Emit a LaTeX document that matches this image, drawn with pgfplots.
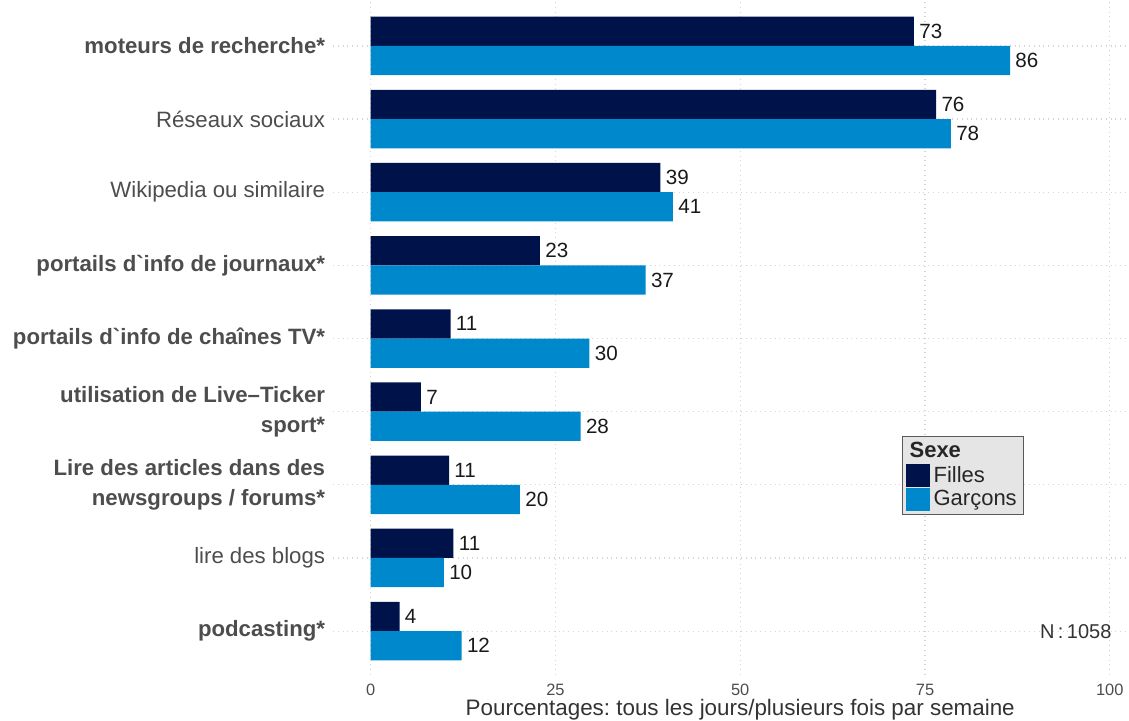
\documentclass[border=0pt]{standalone}
\usepackage{fontspec}
\setmainfont{Liberation Sans}
\setsansfont{Liberation Sans}
\usepackage{pgfplots}
\pgfplotsset{compat=1.18}
\definecolor{filles}{HTML}{00124A}
\definecolor{garcons}{HTML}{0088CC}
\definecolor{txtgray}{HTML}{4D4D4D}
\definecolor{gridgray}{HTML}{D4D4D4}
\definecolor{legfill}{HTML}{E5E5E5}

% value, position, label
\pgfplotstableread{
x y lab
73.5 -0.2 73
76.5 0.8 76
39.2 1.8 39
22.9 2.8 23
10.8 3.8 11
6.8 4.8 7
10.6 5.8 11
11.2 6.8 11
3.9 7.8 4
}\filles

\pgfplotstableread{
x y lab
86.5 0.2 86
78.5 1.2 78
40.9 2.2 41
37.2 3.2 37
29.6 4.2 30
28.4 5.2 28
20.2 6.2 20
9.9 7.2 10
12.3 8.2 12
}\garcons

\begin{document}
\frenchspacing
\begin{tikzpicture}
\path[use as bounding box] (0,0) rectangle (564.5pt,-360pt);
\begin{axis}[
  at={(166.5pt,-1pt)}, anchor=north west,
  scale only axis, width=398pt, height=336.5pt,
  xmin=-5.1, xmax=102.6, ymin=-0.6, ymax=8.6, y dir=reverse,
  clip=false,
  xbar, bar width=0.4,
  xtick={0,25,50,75,100}, ytick={0,...,8},
  yticklabels={
    {\textbf{moteurs de recherche*}},
    {Réseaux sociaux},
    {Wikipedia ou similaire},
    {\textbf{portails d\textasciigrave info de journaux*}},
    {\textbf{portails d\textasciigrave info de chaînes TV*}},
    {\textbf{utilisation de Live–Ticker}\\[1pt]\textbf{sport*}},
    {\textbf{Lire des articles dans des}\\[1pt]\textbf{newsgroups / forums*}},
    {lire des blogs},
    {\textbf{podcasting*}}},
  yticklabel style={align=right, font=\fontsize{11.1}{14.3}\selectfont, text=txtgray, inner sep=0pt, xshift=0.5pt},
  xticklabel style={font=\fontsize{8.2}{9}\selectfont, text=txtgray, inner sep=0pt, yshift=-4.5pt},
  /pgf/number format/assume math mode=true,
  axis line style={draw=none}, major tick style={draw=none},
  xmajorgrids, ymajorgrids,
  grid style={dotted, gridgray, line width=0.6pt},
  legend style={at={(axis cs:71.9,5.33)}, anchor=north west,
    draw=gray!70!black, fill=legfill, line width=0.5pt,
    font=\fontsize{11}{11}\selectfont, text=black!85,
    inner xsep=1.5pt, inner ysep=1pt, row sep=-1.3pt, column sep=0pt,
    cells={anchor=west, inner ysep=0pt, inner xsep=0.5pt}},
  legend cell align=left,
  legend image code/.code={\fill[#1] (0pt,-5.8pt) rectangle (12pt,5.8pt);},
]
\addlegendimage{empty legend}
\addlegendentry{\hspace{-12pt}\textbf{Sexe}}
\addplot[bar shift=0pt, fill=filles, draw=none,
  nodes near coords, point meta=explicit symbolic,
  nodes near coords style={anchor=west, inner sep=0pt, xshift=2.5pt,
    font=\fontsize{10.3}{12}\selectfont, text=black!90}]
  table[x=x, y=y, meta=lab] {\filles};
\addlegendentry{Filles}
\addplot[bar shift=0pt, fill=garcons, draw=none,
  nodes near coords, point meta=explicit symbolic,
  nodes near coords style={anchor=west, inner sep=0pt, xshift=2.5pt,
    font=\fontsize{10.3}{12}\selectfont, text=black!90}]
  table[x=x, y=y, meta=lab] {\garcons};
\addlegendentry{Garçons}
\node[anchor=east, inner sep=0pt, font=\fontsize{10}{12}\selectfont, text=black!80]
  at (axis cs:100,8) [xshift=1pt] {N\,:\,1058};
\node[anchor=north, inner sep=0pt, font=\fontsize{11.2}{13}\selectfont, text=black!80]
  at (axis cs:50,8.6) [yshift=-12pt] {Pourcentages: tous les jours/plusieurs fois par semaine};
\end{axis}
\end{tikzpicture}
\end{document}
